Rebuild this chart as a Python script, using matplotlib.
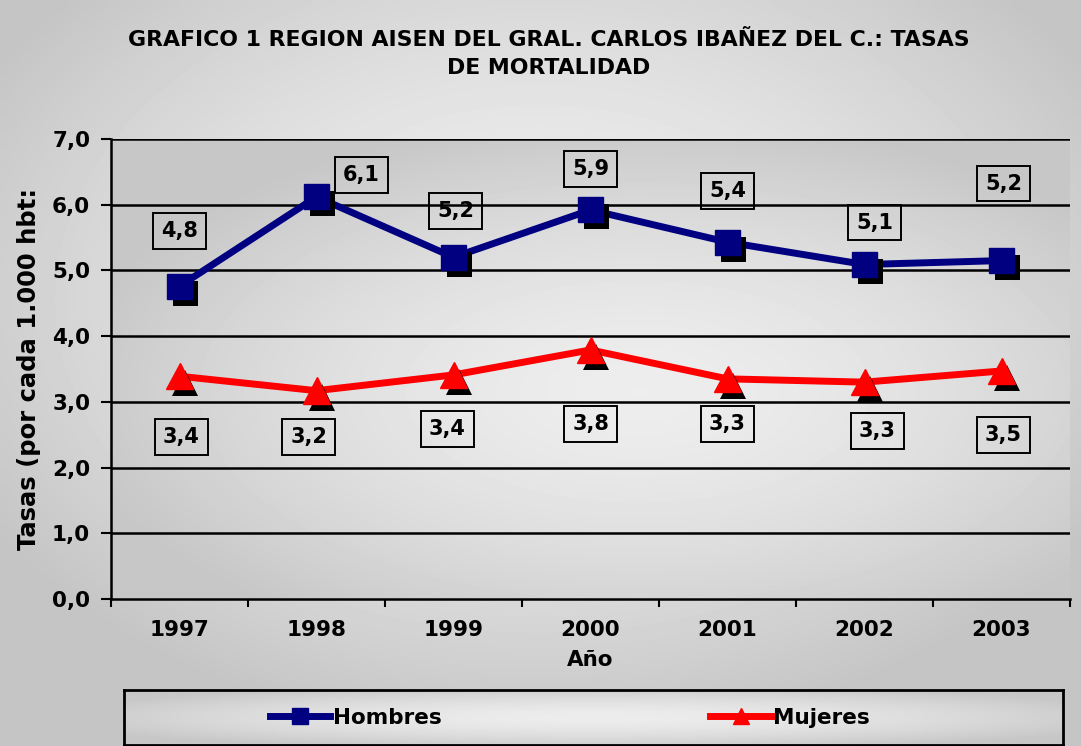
import numpy as np
import matplotlib.pyplot as plt
from matplotlib import patheffects as pe
from matplotlib.lines import Line2D

years = ["1997", "1998", "1999", "2000", "2001", "2002", "2003"]
hombres = [4.76, 6.12, 5.20, 5.92, 5.43, 5.09, 5.15]
mujeres = [3.39, 3.17, 3.41, 3.79, 3.35, 3.30, 3.47]
hombres_lbl = ["4,8", "6,1", "5,2", "5,9", "5,4", "5,1", "5,2"]
mujeres_lbl = ["3,4", "3,2", "3,4", "3,8", "3,3", "3,3", "3,5"]
yticks = [0, 1, 2, 3, 4, 5, 6, 7]
ytick_lbl = ["0,0", "1,0", "2,0", "3,0", "4,0", "5,0", "6,0", "7,0"]

# label offsets in pixels (placement of the boxed labels)
h_off = [(0, 55), (45, 22), (2, 46), (0, 41), (0, 51), (10, 42), (2, 77)]
m_off = [(2, -61), (-8, -46), (-6, -54), (0, -74), (0, -45), (13, -49), (2, -64)]

plt.rcParams['font.family'] = 'DejaVu Sans'
plt.rcParams['font.weight'] = 'bold'


def radial(h, w, lo, hi, cx=0.5, cy=0.5):
    yy, xx = np.mgrid[0:1:h * 1j, 0:1:w * 1j]
    d = np.sqrt(((xx - cx) / 0.6) ** 2 + ((yy - cy) / 0.6) ** 2)
    d = np.clip(d, 0, 1) ** 1.6
    return hi - (hi - lo) * d


fig = plt.figure(figsize=(10.81, 7.46), dpi=100)

# figure background gradient
bg = fig.add_axes([0, 0, 1, 1], zorder=-10)
bg.imshow(radial(100, 150, 0.77, 0.94, 0.5, 0.4), cmap='gray', vmin=0, vmax=1,
          aspect='auto', extent=[0, 1, 0, 1], interpolation='bicubic')
bg.set_axis_off()

W, H = 1081, 746
ax = fig.add_axes([111 / W, 1 - 599 / H, 959 / W, 460 / H])
ax.set_xlim(0, 7)
ax.set_ylim(0, 7)
ax.imshow(radial(100, 150, 0.78, 0.93, 0.55, 0.55), cmap='gray', vmin=0, vmax=1,
          aspect='auto', extent=[0, 7, 0, 7], interpolation='bicubic', zorder=0)

x = np.arange(len(years)) + 0.5
for yv in yticks[1:]:
    ax.axhline(yv, color='black', lw=1.8, zorder=1)

shadow = [pe.SimplePatchShadow(offset=(4, -5), shadow_rgbFace='black', alpha=1.0), pe.Normal()]
ax.plot(x, hombres, color='#000080', lw=5, zorder=3, solid_capstyle='round')
ax.plot(x, hombres, ls='none', marker='s', ms=18, color='#000080', zorder=4,
        path_effects=shadow)
ax.plot(x, mujeres, color='#ff0000', lw=5, zorder=3, solid_capstyle='round')
ax.plot(x, mujeres, ls='none', marker='^', ms=19, color='#ff0000', zorder=4,
        path_effects=shadow)

box = dict(boxstyle='square,pad=0.38', fc='none', ec='black', lw=1.4)
for xi, yi, t, o in zip(x, hombres, hombres_lbl, h_off):
    ax.annotate(t, (xi, yi), xytext=o, textcoords='offset pixels', ha='center',
                va='center', fontsize=15, fontweight='bold', bbox=box, zorder=5)
for xi, yi, t, o in zip(x, mujeres, mujeres_lbl, m_off):
    ax.annotate(t, (xi, yi), xytext=o, textcoords='offset pixels', ha='center',
                va='center', fontsize=15, fontweight='bold', bbox=box, zorder=5)

ax.set_yticks(yticks)
ax.set_yticklabels(ytick_lbl, fontsize=15.5, fontweight='bold')
ax.set_xticks(np.arange(len(years) + 1))
ax.set_xticklabels([])
ax.set_xticks(x, minor=True)
ax.set_xticklabels(years, minor=True, fontsize=15.5, fontweight='bold')
ax.tick_params(axis='x', which='minor', length=0, pad=15)
ax.tick_params(axis='x', which='major', length=6, width=1.5, direction='out')
ax.tick_params(axis='y', length=7, width=1.5, direction='out', pad=8)
for s in ['top', 'right']:
    ax.spines[s].set_visible(False)
for s in ['left', 'bottom']:
    ax.spines[s].set_linewidth(1.8)
ax.set_xlabel("Año", fontsize=15.5, fontweight='bold', labelpad=7)
ax.set_ylabel("Tasas (por cada 1.000 hbt:", fontsize=17.5, fontweight='bold', labelpad=8)

fig.text(549 / W, 1 - 40 / H, "GRAFICO 1 REGION AISEN DEL GRAL. CARLOS IBAÑEZ DEL C.: TASAS",
         ha='center', va='center', fontsize=15.8, fontweight='bold')
fig.text(549 / W, 1 - 68 / H, "DE MORTALIDAD", ha='center', va='center',
         fontsize=15.8, fontweight='bold')

# legend box
lg = fig.add_axes([124 / W, 1 - 745 / H, 939 / W, 55 / H])
lg.imshow(radial(40, 200, 0.78, 0.93, 0.5, 0.5), cmap='gray', vmin=0, vmax=1,
          aspect='auto', extent=[0, 1, 0, 1], interpolation='bicubic')
lg.set_xticks([])
lg.set_yticks([])
for s in lg.spines.values():
    s.set_linewidth(2)
handles = [Line2D([], [], color='#000080', lw=5, marker='s', ms=12),
           Line2D([], [], color='#ff0000', lw=5, marker='^', ms=12)]
lg.legend(handles, ["Hombres", "Mujeres"], ncol=2, loc='center left',
          bbox_to_anchor=(0.135, 0.5), frameon=False, handlelength=2.8,
          handletextpad=0.1, columnspacing=12.5, prop={'size': 15.5, 'weight': 'bold'})

fig.savefig("out.png", dpi=100)
